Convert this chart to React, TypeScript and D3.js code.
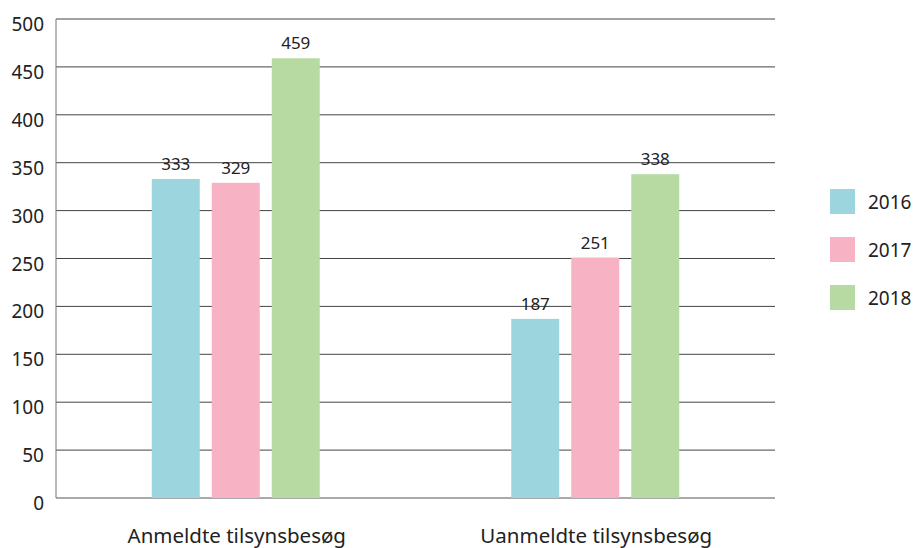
import React from "react";
import * as d3 from "d3";

const categories = ["Anmeldte tilsynsbesøg", "Uanmeldte tilsynsbesøg"];
const seriesNames = ["2016", "2017", "2018"];
const values2016 = [333, 187];
const values2017 = [329, 251];
const values2018 = [459, 338];
const yTicks = [0, 50, 100, 150, 200, 250, 300, 350, 400, 450, 500];
const colors = ["#9dd5df", "#f7b3c3", "#b7daa3"];

export default function App() {
  const W = 915, H = 548;
  const left = 56, right = 775, top = 19, bottom = 498;
  const font = "'Noto Sans', sans-serif";
  const x = d3.scaleBand<string>().domain(categories).range([left, right]);
  const y = d3.scaleLinear().domain([0, 500]).range([bottom, top]);
  const series = [values2016, values2017, values2018];
  const barW = 48, gap = 12;
  const groupW = barW * 3 + gap * 2;
  return (
    <svg width={W} height={H} style={{ position: "absolute", left: 0, top: 0 }} fontFamily={font}>
      {yTicks.map((t) => (
        <g key={t}>
          <line x1={left} x2={right} y1={y(t)} y2={y(t)} stroke={t === 0 ? "#555" : "#444"} strokeWidth={1} />
          <text x={44} y={y(t) + 12} textAnchor="end" fontSize={19} fill="#222">{t}</text>
        </g>
      ))}
      <line x1={left} x2={left} y1={top} y2={bottom} stroke="#777" strokeWidth={1} />
      {categories.map((c, ci) => {
        const cx = (x(c) as number) + x.bandwidth() / 2;
        const x0 = cx - groupW / 2;
        return (
          <g key={c}>
            {series.map((s, si) => {
              const bx = x0 + si * (barW + gap);
              return (
                <g key={si}>
                  <rect x={bx} y={y(s[ci])} width={barW} height={bottom - y(s[ci])} fill={colors[si]} />
                  <text x={bx + barW / 2} y={y(s[ci]) - 9} textAnchor="middle" fontSize={17} fill="#222">{s[ci]}</text>
                </g>
              );
            })}
            <text x={cx + 1} y={543} textAnchor="middle" fontSize={20.5} fill="#222">{c}</text>
          </g>
        );
      })}
      {seriesNames.map((n, i) => (
        <g key={n}>
          <rect x={830} y={189 + i * 48} width={25} height={25} fill={colors[i]} />
          <text x={868} y={209 + i * 48} fontSize={19} fill="#222">{n}</text>
        </g>
      ))}
    </svg>
  );
}
